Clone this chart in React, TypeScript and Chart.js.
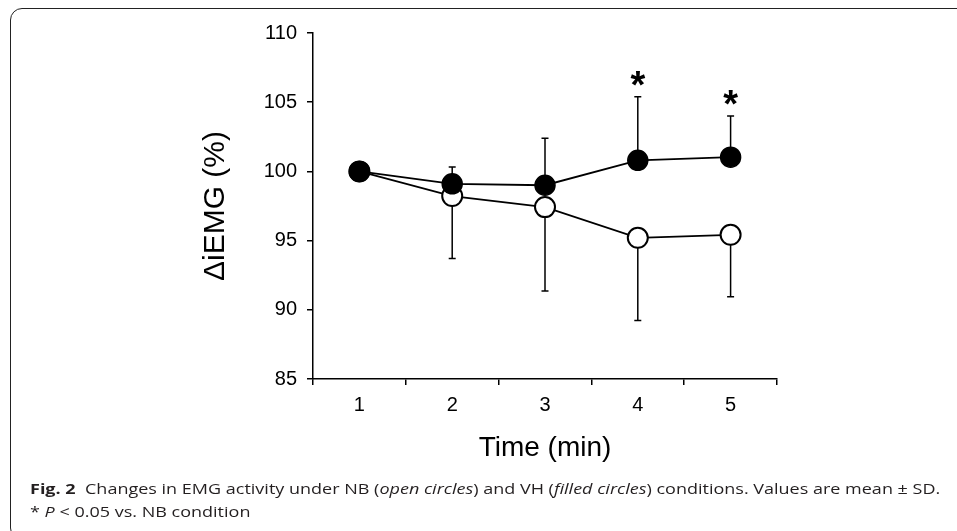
import React, { useEffect, useRef } from 'react';
import { Chart, registerables } from 'chart.js';

Chart.register(...registerables);

// ---- data ----
const timeLabels = ['1', '2', '3', '4', '5'];
const vhMean = [100, 99.1, 99.0, 100.8, 101.03];
const vhSD = [0, 1.21, 3.4, 4.6, 2.97];
const nbMean = [100, 98.22, 97.42, 95.2, 95.42];
const nbSD = [0, 4.51, 6.07, 5.97, 4.48];
const significant = [false, false, false, true, true];
const yMin = 85;
const yMax = 110;
const yStep = 5;

const FONT = "'Liberation Sans', Arial, Helvetica, sans-serif";

const errorBarPlugin = {
  id: 'errorBars',
  beforeDatasetsDraw(chart: any) {
    const { ctx, scales } = chart;
    const x = scales.x;
    const y = scales.y;
    ctx.save();
    ctx.strokeStyle = '#000';
    ctx.lineWidth = 1.5;
    const draw = (means: number[], sds: number[], dir: number) => {
      means.forEach((m, i) => {
        if (!sds[i]) return;
        const px = x.getPixelForValue(i);
        const y0 = y.getPixelForValue(m);
        const y1 = y.getPixelForValue(m + dir * sds[i]);
        ctx.beginPath();
        ctx.moveTo(px, y0);
        ctx.lineTo(px, y1);
        ctx.moveTo(px - 3.5, y1);
        ctx.lineTo(px + 3.5, y1);
        ctx.stroke();
      });
    };
    draw(vhMean, vhSD, 1);
    draw(nbMean, nbSD, -1);
    ctx.restore();
  },
  afterDatasetsDraw(chart: any) {
    const { ctx, scales } = chart;
    const x = scales.x;
    const y = scales.y;
    ctx.save();
    ctx.fillStyle = '#000';
    ctx.font = `bold 38px ${FONT}`;
    ctx.textAlign = 'center';
    ctx.textBaseline = 'alphabetic';
    significant.forEach((s, i) => {
      if (!s) return;
      const px = x.getPixelForValue(i);
      const top = y.getPixelForValue(vhMean[i] + vhSD[i]);
      ctx.fillText('*', px, top + 1);
    });
    ctx.restore();
  },
};

export default function App() {
  const canvasRef = useRef<HTMLCanvasElement | null>(null);

  useEffect(() => {
    if (!canvasRef.current) return;
    const chart = new Chart(canvasRef.current, {
      type: 'line',
      data: {
        labels: timeLabels,
        datasets: [
          {
            label: 'VH',
            data: vhMean,
            borderColor: '#000',
            borderWidth: 1.8,
            backgroundColor: '#000',
            pointBackgroundColor: '#000',
            pointBorderColor: '#000',
            pointBorderWidth: 1.5,
            pointRadius: 10,
            pointHoverRadius: 10,
            tension: 0,
          },
          {
            label: 'NB',
            data: nbMean,
            borderColor: '#000',
            borderWidth: 1.8,
            backgroundColor: '#fff',
            pointBackgroundColor: '#fff',
            pointBorderColor: '#000',
            pointBorderWidth: 2,
            pointRadius: 10,
            pointHoverRadius: 10,
            tension: 0,
          },
        ],
      },
      options: {
        responsive: false,
        animation: false,
        devicePixelRatio: 1,
        layout: { padding: { left: 0, right: 180, top: 33, bottom: 0 } },
        plugins: {
          legend: { display: false },
          tooltip: { enabled: false },
          title: { display: false },
        },
        scales: {
          x: {
            type: 'category',
            offset: true,
            afterFit: (s: any) => {
              s.height = 101;
            },
            grid: {
              offset: true,
              drawOnChartArea: false,
              drawTicks: true,
              tickLength: 6,
              color: '#000',
              lineWidth: 1.5,
            },
            border: { display: true, color: '#000', width: 1.5 },
            ticks: { color: '#000', font: { family: FONT, size: 20 }, padding: 8 },
            title: {
              display: true,
              text: 'Time (min)',
              color: '#000',
              font: { family: FONT, size: 28 },
              padding: { top: 0, bottom: 15 },
            },
          },
          y: {
            type: 'linear',
            min: yMin,
            max: yMax,
            afterFit: (s: any) => {
              s.width = 313;
            },
            grid: {
              drawOnChartArea: false,
              drawTicks: true,
              tickLength: 6,
              color: '#000',
              lineWidth: 1.5,
            },
            border: { display: true, color: '#000', width: 1.5 },
            ticks: { stepSize: yStep, color: '#000', font: { family: FONT, size: 20 }, padding: 10 },
            title: {
              display: true,
              text: 'ΔiEMG (%)',
              color: '#000',
              font: { family: FONT, size: 30 },
              padding: { top: 198, bottom: 0 },
            },
          },
        },
      },
      plugins: [errorBarPlugin],
    });
    return () => chart.destroy();
  }, []);

  const capFont = "'Open Sans', 'Noto Sans', sans-serif";

  return (
    <div
      style={{
        position: 'absolute',
        left: 0,
        top: 0,
        width: 957,
        height: 531,
        overflow: 'hidden',
        background: '#fff',
      }}
    >
      <div
        style={{
          position: 'absolute',
          left: 10,
          top: 8,
          width: 1000,
          height: 530,
          border: '1.5px solid #222',
          borderRadius: 12,
        }}
      />
      <canvas
        ref={canvasRef}
        width={957}
        height={480}
        style={{ position: 'absolute', left: 0, top: 0, width: 957, height: 480 }}
      />
      <div
        style={{
          position: 'absolute',
          left: 30,
          top: 477,
          fontFamily: capFont,
          fontSize: 15,
          lineHeight: '22.5px',
          color: '#231f20',
          whiteSpace: 'nowrap',
          transform: 'scaleX(1.2)',
          transformOrigin: 'left top',
        }}
      >
        <div>
          <b>Fig. 2</b>&nbsp; Changes in EMG activity under NB (<i>open circles</i>) and VH (<i>filled circles</i>)
          conditions. Values are mean ± SD.
        </div>
        <div>
          * <i>P</i> &lt; 0.05 vs. NB condition
        </div>
      </div>
    </div>
  );
}
